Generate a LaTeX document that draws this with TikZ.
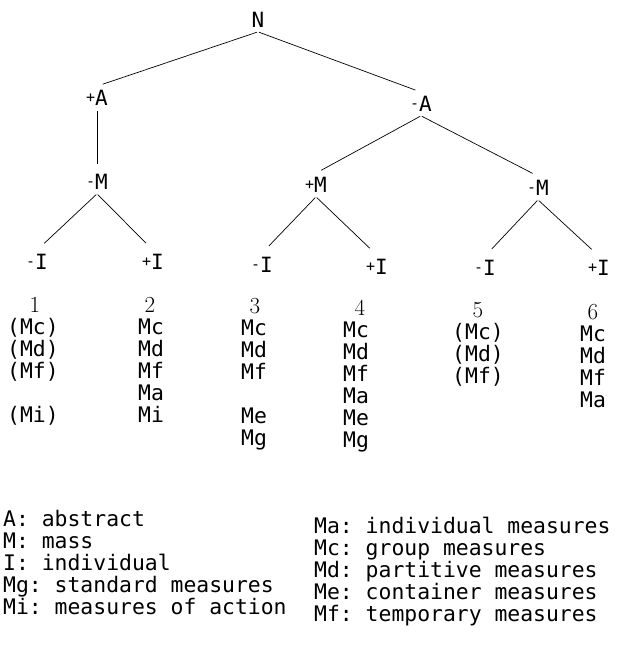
\documentclass[tikz,border=0pt]{standalone}
\usepackage{fontspec}
\newfontfamily\dotfont{DejaVu Sans Mono}
\usetikzlibrary{positioning}
\frenchspacing
\newcommand{\sgn}[1]{\raisebox{3.5pt}{\fontsize{15}{15}\selectfont#1}}
\tikzset{
  feat/.style={font=\dotfont\fontsize{21}{22}\selectfont, inner sep=4pt},
  entry/.style={font=\dotfont\fontsize{21.4}{22}\selectfont, inner sep=0pt, anchor=base},
  colnum/.style={font=\fontsize{23}{22}\selectfont, inner sep=0pt, anchor=base},
  key/.style={font=\dotfont\fontsize{21.4}{22}\selectfont, inner sep=0pt, anchor=base west},
  branch/.style={line width=0.7pt, shorten >=6pt, shorten <=1pt},
}

\begin{document}
\begin{tikzpicture}[x=1pt,y=-1pt]
  \useasboundingbox (0,0) rectangle (616,647);

  % feature tree
  \node[feat] (N)   at (258,20)  {N};
  \node[feat] (pA)  at (97,98)   {\sgn{+}A};
  \node[feat] (mA)  at (421,104) {\sgn{-}A};
  \node[feat] (mM1) at (97,182)  {\sgn{-}M};
  \node[feat] (pM)  at (316,185) {\sgn{+}M};
  \node[feat] (mM2) at (538,188) {\sgn{-}M};
  \node[feat] (l1)  at (37,262)  {\sgn{-}I};
  \node[feat] (l2)  at (153,262) {\sgn{+}I};
  \node[feat] (l3)  at (262,265) {\sgn{-}I};
  \node[feat] (l4)  at (377,267) {\sgn{+}I};
  \node[feat] (l5)  at (485,268) {\sgn{-}I};
  \node[feat] (l6)  at (599,268) {\sgn{+}I};

  \draw[branch] (N.south) -- (pA.north);
  \draw[branch] (N.south) -- (mA.north);
  \draw[branch] (pA.south) -- (mM1.north);
  \draw[branch] (mA.south) -- (pM.north);
  \draw[branch] (mA.south) -- (mM2.north);
  \draw[branch, shorten >=10pt] (mM1.south) -- (l1.north);
  \draw[branch, shorten >=10pt] (mM1.south) -- (l2.north);
  \draw[branch, shorten >=10pt] (pM.south) -- (l3.north);
  \draw[branch, shorten >=10pt] (pM.south) -- (l4.north);
  \draw[branch, shorten >=10pt] (mM2.south) -- (l5.north);
  \draw[branch, shorten >=10pt] (mM2.south) -- (l6.north);

  % classes 1-6 with their measure words
  \node[colnum] (n1) at (35,312)  {1};
  \node[colnum] (n2) at (150,312) {2};
  \node[colnum] (n3) at (255,313) {3};
  \node[colnum] (n4) at (360,315) {4};
  \node[colnum] (n5) at (478,317) {5};
  \node[colnum] (n6) at (593,319) {6};

  \foreach \txt/\k in {{(Mc)}/1,{(Md)}/2,{(Mf)}/3,{(Mi)}/5}
    \node[entry] (c1-\k) at (33,312+22*\k) {\txt};
  \foreach \txt/\k in {Mc/1,Md/2,Mf/3,Ma/4,Mi/5}
    \node[entry] (c2-\k) at (151,312+22*\k) {\txt};
  \foreach \txt/\k in {Mc/1,Md/2,Mf/3,Me/5,Mg/6}
    \node[entry] (c3-\k) at (254,313+22*\k) {\txt};
  \foreach \txt/\k in {Mc/1,Md/2,Mf/3,Ma/4,Me/5,Mg/6}
    \node[entry] (c4-\k) at (356,315+22*\k) {\txt};
  \foreach \txt/\k in {{(Mc)}/1,{(Md)}/2,{(Mf)}/3}
    \node[entry] (c5-\k) at (478,317+22*\k) {\txt};
  \foreach \txt/\k in {Mc/1,Md/2,Mf/3,Ma/4}
    \node[entry] (c6-\k) at (593,319+22*\k) {\txt};

  % key
  \foreach \txt [count=\k from 0] in {A: abstract, M: mass, I: individual,
      Mg: standard measures, Mi: measures of action}
    \node[key] (kl-\k) at (3,526+22*\k) {\txt};
  \foreach \txt [count=\k from 0] in {Ma: individual measures, Mc: group measures,
      Md: partitive measures, Me: container measures, Mf: temporary measures}
    \node[key] (kr-\k) at (314,533+22*\k) {\txt};
\end{tikzpicture}
\end{document}
